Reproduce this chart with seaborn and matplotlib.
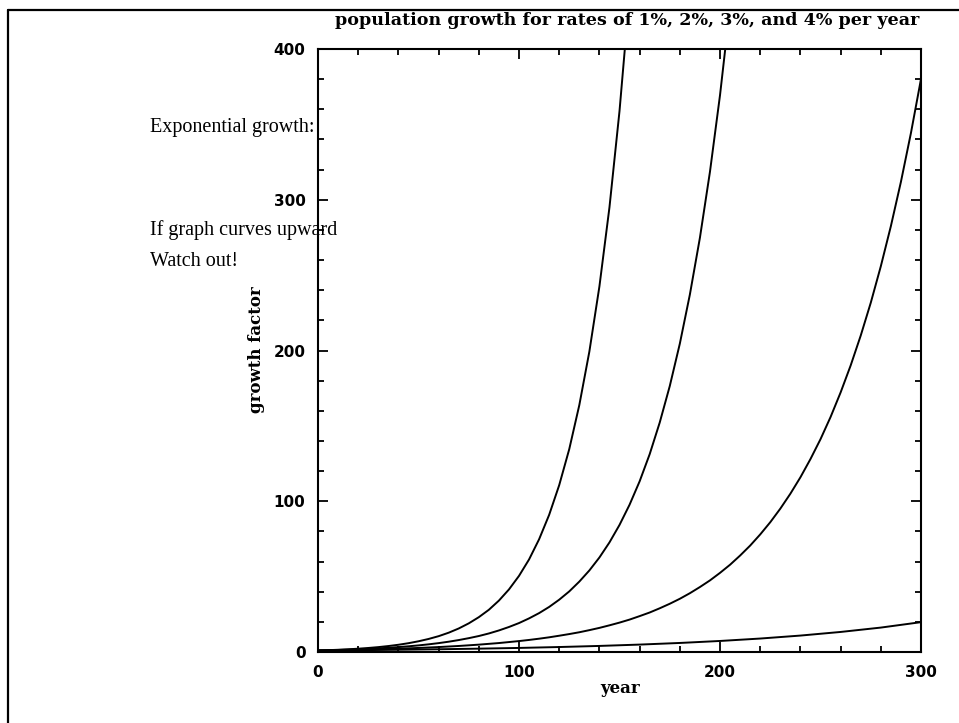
import seaborn as sns
import matplotlib.pyplot as plt
import pandas as pd
from matplotlib.ticker import MultipleLocator
from matplotlib.lines import Line2D

# values (growth factor vs year)
anos_1 = [0, 20, 40, 60, 80, 100, 120, 140, 160, 180, 200, 220, 240, 260, 280, 300]
fator_1 = [1, 1.22, 1.49, 1.82, 2.22, 2.70, 3.30, 4.03, 4.92, 6.00, 7.32, 8.93, 10.9, 13.3, 16.2, 19.8]

anos_2 = [0, 10, 20, 30, 40, 50, 60, 70, 80, 90, 100, 105, 110, 115, 120, 125, 130, 135, 140, 145,
          150, 155, 160, 165, 170, 175, 180, 185, 190, 195, 200, 205, 210, 215, 220, 225, 230, 235,
          240, 245, 250, 255, 260, 265, 270, 275, 280, 285, 290, 295, 300]
fator_2 = [1, 1.22, 1.49, 1.81, 2.21, 2.69, 3.28, 4.00, 4.88, 5.94, 7.25, 8.00, 8.83, 9.75, 10.8,
           11.9, 13.1, 14.5, 16.0, 17.7, 19.5, 21.5, 23.8, 26.2, 29.0, 32.0, 35.3, 39.0, 43.1, 47.5,
           52.5, 57.9, 64.0, 70.6, 78.0, 86.1, 95.1, 105.0, 115.9, 128.0, 141.2, 155.9, 172.2, 190.1,
           209.9, 231.7, 255.9, 282.5, 311.9, 344.4, 380.2]

anos_3 = [0, 5, 10, 15, 20, 25, 30, 35, 40, 45, 50, 55, 60, 65, 70, 75, 80, 85, 90, 95, 100, 105,
          110, 115, 120, 125, 130, 135, 140, 145, 150, 155, 160, 165, 170, 175, 180, 185, 190, 195,
          200, 205]
fator_3 = [1, 1.16, 1.34, 1.56, 1.81, 2.09, 2.43, 2.81, 3.26, 3.78, 4.38, 5.08, 5.89, 6.83, 7.92,
           9.18, 10.6, 12.3, 14.3, 16.6, 19.2, 22.3, 25.8, 29.9, 34.7, 40.2, 46.7, 54.1, 62.7, 72.7,
           84.3, 97.7, 113.2, 131.2, 152.2, 176.4, 204.5, 237.1, 274.8, 318.6, 369.4, 428.2]

anos_4 = [0, 5, 10, 15, 20, 25, 30, 35, 40, 45, 50, 55, 60, 65, 70, 75, 80, 85, 90, 95, 100, 105,
          110, 115, 120, 125, 130, 135, 140, 145, 150, 155]
fator_4 = [1, 1.22, 1.48, 1.80, 2.19, 2.67, 3.24, 3.95, 4.80, 5.84, 7.11, 8.65, 10.5, 12.8, 15.6,
           19.0, 23.1, 28.0, 34.1, 41.5, 50.5, 61.4, 74.8, 91.0, 110.7, 134.6, 163.8, 199.3, 242.5,
           295.0, 358.9, 436.6]

taxas = ['1%', '2%', '3%', '4%']

partes = []
for taxa, anos, fator in zip(taxas, [anos_1, anos_2, anos_3, anos_4], [fator_1, fator_2, fator_3, fator_4]):
    partes.append(pd.DataFrame({'year': anos, 'growth': fator, 'rate': taxa}))
df = pd.concat(partes, ignore_index=True)

sns.set_style('ticks')
plt.rcParams['axes.linewidth'] = 1.5
plt.rcParams['text.color'] = 'black'
plt.rcParams['xtick.labelcolor'] = 'black'
plt.rcParams['ytick.labelcolor'] = 'black'

fig = plt.figure(figsize=(9.59, 7.23), dpi=100)
ax = fig.add_axes([0.3316, 0.0982, 0.6288, 0.834])

sns.lineplot(data=df, x='year', y='growth', hue='rate', palette=['black'] * 4,
             estimator=None, legend=False, linewidth=1.4, ax=ax)

ax.set_xlim(0, 300)
ax.set_ylim(0, 400)
ax.xaxis.set_major_locator(MultipleLocator(100))
ax.yaxis.set_major_locator(MultipleLocator(100))
ax.xaxis.set_minor_locator(MultipleLocator(20))
ax.yaxis.set_minor_locator(MultipleLocator(20))
ax.tick_params(which='both', direction='in', top=True, right=True, width=1.3, color='black')
ax.tick_params(which='major', length=7.5, pad=9)
ax.tick_params(which='minor', length=4.5)
for rot in ax.get_xticklabels() + ax.get_yticklabels():
    rot.set_fontweight('bold')
    rot.set_fontsize(11)
    rot.set_family('DejaVu Sans')
    rot.set_color('black')
for lado in ax.spines.values():
    lado.set_linewidth(1.5)
    lado.set_color('black')

ax.set_xlabel('')
ax.set_ylabel('')
fig.text(0.647, 0.048, 'year', ha='center', va='center', fontsize=12,
         fontweight='bold', family='DejaVu Serif', color='black')
fig.text(0.267, 0.516, 'growth factor', ha='center', va='center', rotation=90,
         fontsize=12, fontweight='bold', family='DejaVu Serif', color='black')
fig.text(0.654, 0.971, 'population growth for rates of 1%, 2%, 3%, and 4% per year',
         ha='center', va='center', fontsize=12.6, fontweight='bold', family='DejaVu Serif',
         color='black')

# slide text
fig.text(0.156, 0.824, 'Exponential growth:', ha='left', va='center', fontsize=14.5,
         family='Liberation Serif', color='black')
fig.text(0.156, 0.682, 'If graph curves upward', ha='left', va='center', fontsize=14.5,
         family='Liberation Serif', color='black')
fig.text(0.156, 0.638, 'Watch out!', ha='left', va='center', fontsize=14.5,
         family='Liberation Serif', color='black')

# slide frame (top and left edges)
fig.add_artist(Line2D([0.0085, 1.0], [0.986, 0.986], transform=fig.transFigure, color='black', lw=1.6))
fig.add_artist(Line2D([0.0085, 0.0085], [0.0, 0.986], transform=fig.transFigure, color='black', lw=1.6))

fig.savefig('out.png', dpi=100)
